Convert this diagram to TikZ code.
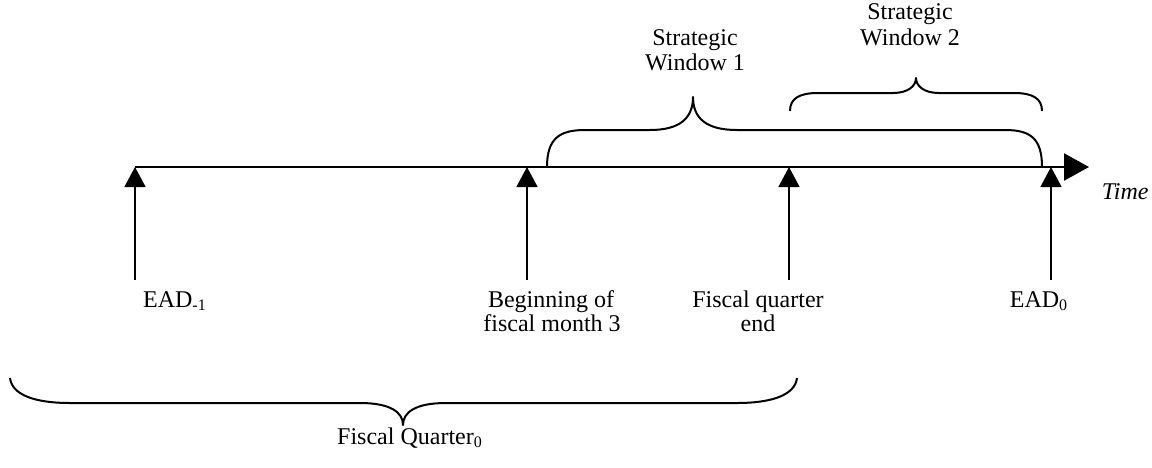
\documentclass[tikz,border=0pt]{standalone}
\usepackage{fontspec}
\setmainfont{Liberation Serif}
\usetikzlibrary{arrows.meta}
\begin{document}
\begin{tikzpicture}[x=0.5pt,y=-0.5pt,
  axisline/.style={line width=1.2pt,-{Triangle[length=12.5pt,width=13.5pt]}},
  varrow/.style={line width=0.85pt,-{Triangle[length=10pt,width=10.5pt]}},
  bracepath/.style={line width=1pt,line join=round},
  lbl/.style={inner sep=0pt,anchor=base,font=\fontsize{12}{12.5}\selectfont},
  timelbl/.style={inner sep=0pt,anchor=base east,font=\fontsize{12}{12.5}\selectfont\itshape}]
\useasboundingbox (0,0) rectangle (1152,467);
% timeline
\coordinate (ts) at (135,167);
\coordinate (te) at (1089,167);
\draw[axisline] (ts) -- (te);
\node[timelbl] (time) at (1149,199) {Time};
% tick points on the axis and arrow bases
\coordinate (p1) at (135,167); \coordinate (b1) at (135,280);
\coordinate (p2) at (527,167); \coordinate (b2) at (527,280);
\coordinate (p3) at (789,167); \coordinate (b3) at (789,280);
\coordinate (p4) at (1051,167); \coordinate (b4) at (1051,280);
\draw[varrow] (b1) -- (p1);
\draw[varrow] (b2) -- (p2);
\draw[varrow] (b3) -- (p3);
\draw[varrow] (b4) -- (p4);
% labels under arrows
\node[lbl] (l1) at (175,307) {EAD\textsubscript{-1}};
\node[lbl] (l2a) at (551,307) {Beginning of};
\node[lbl] (l2b) at (552,331) {fiscal month 3};
\node[lbl] (l3a) at (758,307) {Fiscal quarter};
\node[lbl] (l3b) at (758,331) {end};
\node[lbl] (l4) at (1039,307) {EAD\textsubscript{0}};
% Strategic window 1 brace
\draw[bracepath] (547,167) .. controls (547,138) and (560,130) .. (585,130) -- (650,130)
  .. controls (680,130) and (693,118) .. (693,97)
  .. controls (693,118) and (706,130) .. (737,130) -- (1005,130)
  .. controls (1030,130) and (1042,138) .. (1042,167);
\node[lbl] (sw1a) at (695,45) {Strategic};
\node[lbl] (sw1b) at (695,70) {Window 1};
% Strategic window 2 brace
\draw[bracepath] (790,111) .. controls (790,98) and (800,93) .. (818,93) -- (893,93)
  .. controls (908,93) and (916,86) .. (916,78)
  .. controls (916,86) and (924,93) .. (939,93) -- (1014,93)
  .. controls (1032,93) and (1042,98) .. (1042,111);
\node[lbl] (sw2a) at (910,19) {Strategic};
\node[lbl] (sw2b) at (910,45) {Window 2};
% Fiscal quarter brace
\draw[bracepath] (10,378) .. controls (12,395) and (35,403) .. (70,403) -- (360,403)
  .. controls (390,403) and (403,412) .. (403,425)
  .. controls (403,412) and (416,403) .. (446,403) -- (737,403)
  .. controls (772,403) and (795,395) .. (797,378);
\node[lbl] (fq) at (410,444) {Fiscal Quarter\textsubscript{0}};
\end{tikzpicture}
\end{document}
